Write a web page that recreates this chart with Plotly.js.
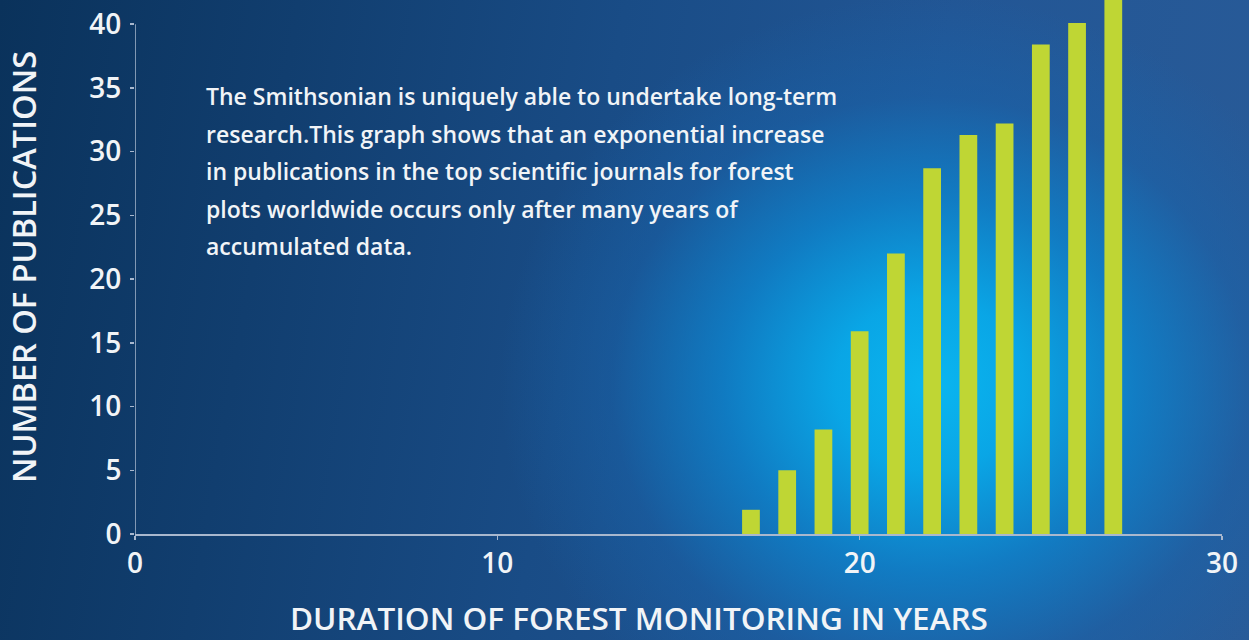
<!DOCTYPE html>
<html>
<head>
<meta charset="utf-8">
<script src="https://cdn.plot.ly/plotly-3.0.1.min.js"></script>
<style>
  html, body { margin: 0; padding: 0; width: 1249px; height: 640px; overflow: hidden; }
  body {
    background:
      radial-gradient(ellipse 430px 390px at 930px 385px, rgba(10,182,240,1) 0%, rgba(8,170,234,0.95) 22%, rgba(12,134,208,0.78) 48%, rgba(22,104,178,0.4) 74%, rgba(20,90,160,0) 100%),
      linear-gradient(100deg, #0a325b 0%, #113e6f 22%, #194c86 46%, #225695 70%, #295b98 100%);
  }
  #chart { width: 1249px; height: 640px; }
</style>
</head>
<body>
<div id="chart"></div>
<script>
// ---- data ----
const years = [17, 18, 19, 20, 21, 22, 23, 24, 25, 26, 27];
const publications = [1.9, 5, 8.2, 15.9, 22, 28.7, 31.3, 32.2, 38.4, 40.1, 42.5];
const xTickVals = [0, 10, 20, 30];
const yTickVals = [0, 5, 10, 15, 20, 25, 30, 35, 40];
const xTitle = "DURATION OF FOREST MONITORING IN YEARS";
const yTitle = "NUMBER OF PUBLICATIONS";
const noteLines = [
  "The Smithsonian is uniquely able to undertake long-term",
  "research.This graph shows that an exponential increase",
  "in publications in the top scientific journals for forest",
  "plots worldwide occurs only after many years of",
  "accumulated data."
];

// ---- layout ----
const W = 1249, H = 640;
const M = { l: 135, r: 27, t: 0, b: 106 };
const plotH = H - M.t - M.b;
const plotW = W - M.l - M.r;
const axisColor = "#a9b8ce";
const textColor = "#f1f4f7";
const fontFam = "'Open Sans', Roboto, 'DejaVu Sans', sans-serif";

function pxToPaperX(px) { return (px - M.l) / plotW; }
function pxToPaperY(py) { return (H - M.b - py) / plotH; }

const noteLeft = 204, noteFirstCenter = 96, noteSpacing = 37.6;
const annotations = noteLines.map((line, i) => ({
  text: line,
  xref: "paper", yref: "paper",
  x: pxToPaperX(noteLeft),
  y: pxToPaperY(noteFirstCenter + i * noteSpacing),
  xanchor: "left", yanchor: "middle",
  showarrow: false,
  font: { family: fontFam, size: 23, weight: 600, color: textColor }
}));

// x-axis title placed as an annotation so it can sit left of plot centre as in the reference
annotations.push({
  text: xTitle,
  xref: "paper", yref: "paper",
  x: pxToPaperX(639), y: pxToPaperY(617),
  xanchor: "center", yanchor: "middle",
  showarrow: false,
  font: { family: fontFam, size: 31.5, weight: 600, color: textColor }
});

const trace = {
  type: "bar",
  x: years,
  y: publications,
  width: 0.49,
  marker: { color: "#bfd634", line: { width: 0 } },
  hoverinfo: "x+y"
};

const layout = {
  width: W, height: H,
  margin: M,
  paper_bgcolor: "rgba(0,0,0,0)",
  plot_bgcolor: "rgba(0,0,0,0)",
  showlegend: false,
  font: { family: fontFam, color: textColor },
  xaxis: {
    range: [0, 30],
    tickvals: xTickVals,
    ticktext: xTickVals.map(String),
    showgrid: false, zeroline: false,
    showline: true, linecolor: axisColor, linewidth: 1.5,
    ticks: "outside", ticklen: 4, tickcolor: axisColor, tickwidth: 1.5,
    tickfont: { family: fontFam, size: 28, weight: 600, color: textColor },
    automargin: false,
    fixedrange: true
  },
  yaxis: {
    range: [0, 41.9],
    tickvals: yTickVals,
    ticktext: yTickVals.map(String),
    showgrid: false, zeroline: false,
    showline: false,
    ticks: "outside", ticklen: 4, tickcolor: axisColor, tickwidth: 1.5,
    ticklabelstandoff: 3,
    tickfont: { family: fontFam, size: 28, weight: 600, color: textColor },
    title: { text: yTitle, font: { family: fontFam, size: 32.5, weight: 600, color: textColor }, standoff: 42 },
    automargin: false,
    fixedrange: true
  },
  shapes: [
    { type: "line", xref: "x", yref: "y", x0: 0, x1: 0, y0: -0.4, y1: 40,
      line: { color: axisColor, width: 1.5 }, layer: "above" }
  ],
  annotations: annotations
};

Plotly.newPlot("chart", [trace], layout, { displayModeBar: false, staticPlot: true });
</script>
</body>
</html>
